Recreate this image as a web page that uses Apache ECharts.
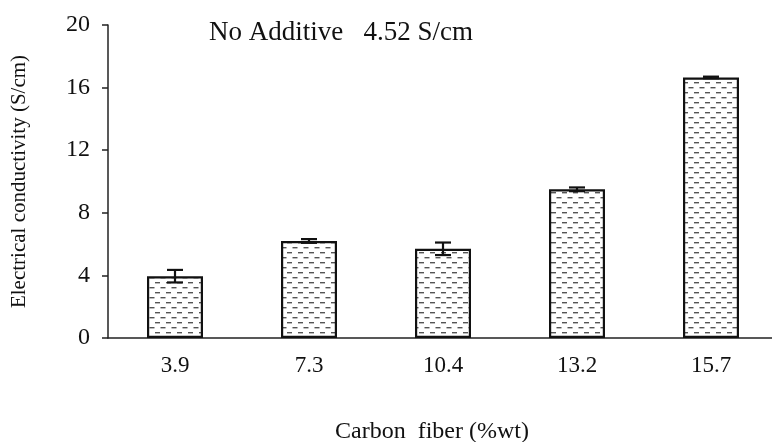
<!DOCTYPE html>
<html>
<head>
<meta charset="utf-8">
<script src="https://cdn.jsdelivr.net/npm/echarts@6/dist/echarts.min.js"></script>
<style>
  html, body { margin: 0; padding: 0; background: #fff; }
  #chart { width: 772px; height: 442px; }
</style>
</head>
<body>
<div id="chart"></div>
<script>
// Carbon fiber loading (%wt) and measured conductivity
const categories = ['3.9', '7.3', '10.4', '13.2', '15.7'];
const conductivity = [3.95, 6.2, 5.7, 9.5, 16.65];
const errorSize = [0.4, 0.12, 0.4, 0.12, 0.05];
const yTicks = [0, 4, 8, 12, 16, 20];

// Dashed fill pattern for the bars
function makePattern() {
  const c = document.createElement('canvas');
  c.width = 11; c.height = 10;
  const g = c.getContext('2d');
  g.fillStyle = '#fff';
  g.fillRect(0, 0, 11, 10);
  g.fillStyle = '#555';
  g.fillRect(1, 2, 5, 1.4);
  g.fillRect(6.5, 7, 5, 1.4);
  g.fillRect(-4.5, 7, 5, 1.4);
  return c;
}

const font = '"Liberation Serif", "Times New Roman", serif';
const chart = echarts.init(document.getElementById('chart'));

const errData = categories.map((c, i) => [i, conductivity[i] - errorSize[i], conductivity[i] + errorSize[i]]);

chart.setOption({
  animation: false,
  backgroundColor: '#fff',
  title: {
    text: 'No Additive   4.52 S/cm',
    left: 204, top: 14,
    textStyle: { fontFamily: font, fontSize: 27, fontWeight: 'normal', color: '#111' }
  },
  grid: { left: 108, top: 25, width: 670, bottom: 104, containLabel: false, outerBoundsMode: 'none' },
  xAxis: {
    type: 'category',
    data: categories,
    axisLine: { lineStyle: { color: '#222', width: 1.5 } },
    axisTick: { show: false },
    axisLabel: { fontFamily: font, fontSize: 23, color: '#111', margin: 16 },
    name: 'Carbon  fiber (%wt)',
    nameLocation: 'middle',
    nameGap: 82,
    nameTextStyle: { fontFamily: font, fontSize: 24, color: '#111', padding: [0, 22, 0, 0] }
  },
  yAxis: {
    type: 'value',
    min: 0, max: 20, interval: 4,
    splitLine: { show: false },
    axisLine: { show: true, lineStyle: { color: '#222', width: 1.5 } },
    axisTick: { show: true, length: 6, lineStyle: { color: '#222', width: 1.5 } },
    axisLabel: {
      fontFamily: font, fontSize: 24, color: '#111', margin: 18,
      formatter: v => yTicks.includes(v) ? String(v) : ''
    },
    name: 'Electrical conductivity (S/cm)',
    nameLocation: 'middle',
    nameGap: 78,
    nameTextStyle: { fontFamily: font, fontSize: 21, color: '#111' }
  },
  series: [
    {
      type: 'bar',
      data: conductivity,
      barWidth: 56,
      itemStyle: {
        color: { image: makePattern(), repeat: 'repeat' },
        borderColor: '#111',
        borderWidth: 2.2
      }
    },
    {
      type: 'custom',
      data: errData,
      z: 5,
      renderItem: function (params, api) {
        const x = api.value(0);
        const lo = api.coord([x, api.value(1)]);
        const hi = api.coord([x, api.value(2)]);
        const half = 8;
        const style = { stroke: '#111', lineWidth: 2.2 };
        return {
          type: 'group',
          children: [
            { type: 'line', shape: { x1: lo[0], y1: lo[1], x2: hi[0], y2: hi[1] }, style },
            { type: 'line', shape: { x1: hi[0] - half, y1: hi[1], x2: hi[0] + half, y2: hi[1] }, style },
            { type: 'line', shape: { x1: lo[0] - half, y1: lo[1], x2: lo[0] + half, y2: lo[1] }, style }
          ]
        };
      }
    }
  ]
});
</script>
</body>
</html>
